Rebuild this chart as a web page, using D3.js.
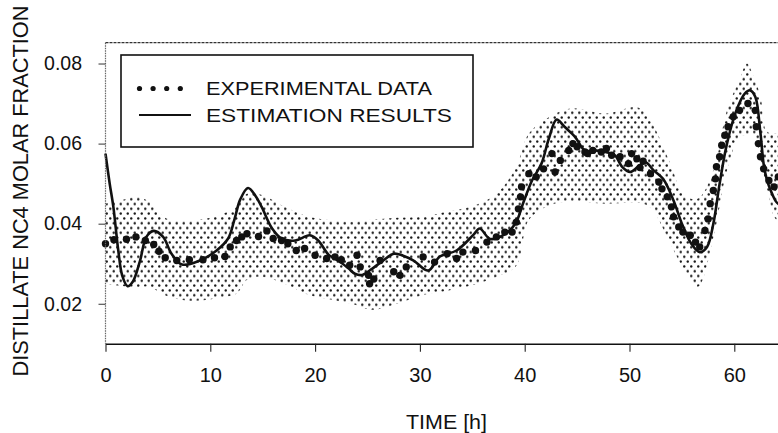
<!DOCTYPE html>
<html>
<head>
<meta charset="utf-8">
<script src="https://cdn.jsdelivr.net/npm/d3@7"></script>
<style>
  html, body { margin: 0; padding: 0; background: #fff; }
  svg { display: block; }
  text { font-family: "Liberation Sans", Arial, sans-serif; fill: #111; }
</style>
</head>
<body>
<div id="chart"></div>
<script>
// experimental data (time h, NC4 molar fraction)
const expTime = [0, 0.8, 2.0, 2.9, 3.8, 4.6, 5.1, 5.7, 6.8, 8.0, 9.3, 10.4, 11.4, 11.9, 12.5, 13.0, 13.5, 14.6, 15.4, 16.0,
  16.8, 17.4, 18.2, 19.0, 20.0, 21.1, 21.9, 22.5, 23.3, 24.0, 24.3, 25.1, 25.2, 25.6, 26.2, 27.5, 28.1, 28.7, 30.3, 31.4,
  32.6, 33.5, 34.1, 35.3, 36.4, 37.3, 38.1, 38.8, 39.2, 39.4, 39.6, 39.7, 40.4, 41.1, 41.8, 42.6, 42.9, 43.4, 44.2, 44.6,
  45.0, 45.75, 46.0, 46.5, 47.3, 47.8, 48.3, 49.1, 49.9, 50.2, 50.7, 51.0, 51.3, 52.0, 52.8, 53.1, 53.6, 54.0, 54.2, 54.7,
  55.1, 55.8, 56.3, 56.7, 57.2, 57.5, 57.7, 58.0, 58.2, 58.3, 58.6, 58.8, 59.1, 59.4, 59.9, 60.5, 61.3, 62.0, 62.1, 62.3,
  62.5, 62.8, 63.3, 63.8, 64.2];
const expValue = [0.035, 0.036, 0.0361, 0.0367, 0.0358, 0.0348, 0.0331, 0.0315, 0.0308, 0.031, 0.031, 0.0315, 0.0318, 0.0342, 0.0358, 0.0367, 0.0375, 0.0368, 0.0382, 0.0363,
  0.0358, 0.035, 0.0333, 0.0338, 0.0321, 0.0313, 0.0317, 0.031, 0.0296, 0.0321, 0.0292, 0.0271, 0.025, 0.0262, 0.0308, 0.028, 0.0271, 0.0292, 0.0317, 0.0304,
  0.0325, 0.0313, 0.0329, 0.0333, 0.0354, 0.0367, 0.0379, 0.0379, 0.0404, 0.0437, 0.0467, 0.0492, 0.0525, 0.0517, 0.0537, 0.0575, 0.0529, 0.0558, 0.0583, 0.06,
  0.0592, 0.0579, 0.0575, 0.0583, 0.0579, 0.0588, 0.0571, 0.0567, 0.055, 0.0575, 0.0562, 0.054, 0.0556, 0.0525, 0.0504, 0.0487, 0.0467, 0.0442, 0.0417, 0.0392,
  0.0379, 0.0371, 0.0354, 0.0342, 0.0383, 0.0412, 0.045, 0.0483, 0.0512, 0.0542, 0.0567, 0.0596, 0.0621, 0.0642, 0.0667, 0.0683, 0.07, 0.0683, 0.0642, 0.06,
  0.0567, 0.0537, 0.0508, 0.0492, 0.0517];

// estimation results
const estTime = [0, 0.4, 0.75, 1.22, 1.6, 2.1, 2.6, 3.3, 3.9, 4.6, 5.5, 6.3, 7.3, 9.0, 10.6, 11.7, 12.3, 12.85, 13.6, 14.3,
  14.9, 15.9, 16.8, 18.1, 19.5, 20.3, 21.3, 22.2, 23.2, 23.8, 24.5, 25.2, 26.5, 27.5, 28.4, 29.4, 30.8, 31.9, 33.5, 35.1,
  35.7, 36.7, 38.0, 39.1, 39.9, 40.7, 41.6, 42.3, 43.05, 43.8, 44.8, 45.75, 46.7, 47.7, 48.6, 49.3, 50.05, 50.8, 51.5, 52.3,
  53.2, 54.2, 55.0, 55.9, 56.7, 57.4, 58.0, 58.6, 59.3, 60.2, 61.0, 61.5, 62.0, 62.5, 62.9, 63.6, 64.2, 65];
const estValue = [0.0575, 0.05, 0.0442, 0.0333, 0.027, 0.0244, 0.0255, 0.0308, 0.0367, 0.0382, 0.0367, 0.0325, 0.0298, 0.0308, 0.0333, 0.0363, 0.041, 0.046, 0.0489, 0.047,
  0.0442, 0.0388, 0.0363, 0.0358, 0.0371, 0.0358, 0.0322, 0.0308, 0.0288, 0.0275, 0.0272, 0.0283, 0.0308, 0.0325, 0.032, 0.0308, 0.0283, 0.0318, 0.0333, 0.0372,
  0.0388, 0.0362, 0.0372, 0.04, 0.0455, 0.0508, 0.055, 0.0612, 0.066, 0.0642, 0.0617, 0.0583, 0.0583, 0.0579, 0.0571, 0.0542, 0.0529, 0.0542, 0.0554, 0.0533,
  0.0512, 0.0458, 0.04, 0.035, 0.0329, 0.0342, 0.04, 0.05, 0.06, 0.0683, 0.0725, 0.0733, 0.0717, 0.0625, 0.0533, 0.0475, 0.045, 0.046];

// stippled band
const bandTime = [0, 1.4, 3, 4.2, 5.8, 7.7, 9.7, 11.2, 12.5, 13.5, 15, 17.1, 19.4, 21.6, 23.5, 25.4, 27.8, 30.3, 32.5, 34.8,
  37.3, 39.2, 40.4, 42.6, 44.5, 47.7, 50.8, 52, 53.9, 55.1, 56.5, 58, 59.3, 60.5, 61.2, 61.8, 62.5, 63.1, 64, 65];
const bandUpper = [0.045, 0.0458, 0.0467, 0.0454, 0.0413, 0.0408, 0.0413, 0.0425, 0.0442, 0.0475, 0.0471, 0.0442, 0.0417, 0.0408, 0.0405, 0.041, 0.0415, 0.0417, 0.043, 0.0442,
  0.0475, 0.0542, 0.0625, 0.067, 0.0688, 0.0675, 0.069, 0.0658, 0.055, 0.0475, 0.0462, 0.0533, 0.0683, 0.076, 0.08, 0.077, 0.0717, 0.063, 0.0625, 0.063];
const bandLower = [0.025, 0.0245, 0.0242, 0.0242, 0.022, 0.0208, 0.021, 0.0217, 0.0225, 0.026, 0.0267, 0.025, 0.0222, 0.021, 0.02, 0.0185, 0.02, 0.0222, 0.0232, 0.0245,
  0.0267, 0.0295, 0.041, 0.0448, 0.0455, 0.045, 0.0452, 0.044, 0.035, 0.029, 0.0242, 0.0365, 0.0533, 0.0617, 0.0622, 0.0625, 0.056, 0.049, 0.041, 0.04];

const xTicks = [0, 10, 20, 30, 40, 50, 60];
const yTicks = [0.02, 0.04, 0.06, 0.08];
const legendLabels = ["EXPERIMENTAL DATA", "ESTIMATION RESULTS"];

(function() {
  const width = 778, height = 433;
  const plotLeft = 105.5, plotTop = 42.7, plotBottom = 343.8;

  const svg = d3.select("#chart").append("svg")
    .attr("width", width)
    .attr("height", height);

  const x = d3.scaleLinear().domain([0, 70]).range([plotLeft, plotLeft + 70 * 10.48]);
  const y = d3.scaleLinear().domain([0.01, 0.0852]).range([plotBottom, plotTop]);

  const defs = svg.append("defs");
  const pat = defs.append("pattern")
    .attr("id", "stipple")
    .attr("patternUnits", "userSpaceOnUse")
    .attr("width", 7)
    .attr("height", 9.6);
  pat.append("circle").attr("cx", 1.75).attr("cy", 2.4).attr("r", 1.2).attr("fill", "#111");
  pat.append("circle").attr("cx", 5.25).attr("cy", 7.2).attr("r", 1.2).attr("fill", "#111");

  defs.append("clipPath").attr("id", "plotclip")
    .append("rect")
    .attr("x", plotLeft).attr("y", plotTop)
    .attr("width", width - plotLeft).attr("height", plotBottom - plotTop);

  // band
  const band = bandTime.map((t, i) => ({ t, hi: bandUpper[i], lo: bandLower[i] }));
  svg.append("path")
    .datum(band)
    .attr("clip-path", "url(#plotclip)")
    .attr("fill", "url(#stipple)")
    .attr("d", d3.area()
      .x(d => x(d.t))
      .y0(d => y(d.lo))
      .y1(d => y(d.hi))
      .curve(d3.curveCatmullRom));

  // estimation line
  const est = estTime.map((t, i) => ({ t, v: estValue[i] }));
  svg.append("path")
    .datum(est)
    .attr("fill", "none")
    .attr("stroke", "#111")
    .attr("stroke-width", 2.6)
    .attr("stroke-linejoin", "round")
    .attr("d", d3.line()
      .x(d => x(d.t))
      .y(d => y(d.v))
      .curve(d3.curveCatmullRom));

  // experimental dots
  svg.append("g")
    .selectAll("circle")
    .data(expTime.map((t, i) => ({ t, v: expValue[i] })))
    .join("circle")
    .attr("cx", d => x(d.t))
    .attr("cy", d => y(d.v))
    .attr("r", 3.7)
    .attr("fill", "#111");

  // frame: dotted left and top borders
  svg.append("line")
    .attr("x1", plotLeft).attr("x2", plotLeft)
    .attr("y1", plotTop).attr("y2", plotBottom)
    .attr("stroke", "#666").attr("stroke-width", 1.2)
    .attr("stroke-dasharray", "1.5,1");
  svg.append("line")
    .attr("x1", plotLeft).attr("x2", width)
    .attr("y1", plotTop).attr("y2", plotTop)
    .attr("stroke", "#333").attr("stroke-width", 1.3)
    .attr("stroke-dasharray", "3,1");

  // axes
  const xAxis = svg.append("g")
    .attr("transform", `translate(0,${plotBottom})`)
    .call(d3.axisBottom(x).tickValues(xTicks).tickSize(8).tickSizeOuter(0).tickPadding(16));
  xAxis.select(".domain").attr("stroke", "#111").attr("stroke-width", 1.6);
  xAxis.selectAll(".tick line").attr("stroke", "#222").attr("stroke-width", 1.1);
  xAxis.selectAll(".tick text")
    .attr("font-size", 20)
    .attr("font-family", "Liberation Sans, Arial, sans-serif")
    .attr("fill", "#111");

  const yAxis = svg.append("g")
    .attr("transform", `translate(${plotLeft},0)`)
    .call(d3.axisLeft(y).tickValues(yTicks).tickFormat(d3.format(".2f")).tickSize(7).tickPadding(16.5));
  yAxis.select(".domain").remove();
  yAxis.selectAll(".tick line").attr("stroke", "#333").attr("stroke-width", 1);
  yAxis.selectAll(".tick text")
    .attr("font-size", 19.5)
    .attr("font-family", "Liberation Sans, Arial, sans-serif")
    .attr("fill", "#111");

  // axis titles
  svg.append("text")
    .attr("x", 446.5)
    .attr("y", 429)
    .attr("text-anchor", "middle")
    .attr("font-size", 19.5)
    .attr("textLength", 81)
    .attr("lengthAdjust", "spacingAndGlyphs")
    .text("TIME [h]");

  svg.append("text")
    .attr("transform", "translate(28,191) rotate(-90)")
    .attr("text-anchor", "middle")
    .attr("font-size", 21.5)
    .attr("textLength", 371)
    .attr("lengthAdjust", "spacingAndGlyphs")
    .text("DISTILLATE NC4 MOLAR FRACTION");

  // legend
  const legendWidths = [226, 246];
  const lg = svg.append("g");
  lg.append("rect")
    .attr("x", 121).attr("y", 55)
    .attr("width", 352).attr("height", 92)
    .attr("fill", "#fff")
    .attr("stroke", "#111").attr("stroke-width", 1.6);
  lg.selectAll(".ldot")
    .data(d3.range(4))
    .join("circle")
    .attr("class", "ldot")
    .attr("cx", i => 139.5 + i * 13.6)
    .attr("cy", 88.5)
    .attr("r", 2.6)
    .attr("fill", "#111");
  lg.append("line")
    .attr("x1", 139).attr("x2", 191)
    .attr("y1", 115).attr("y2", 115)
    .attr("stroke", "#111").attr("stroke-width", 2);
  lg.selectAll(".ltext")
    .data(legendLabels)
    .join("text")
    .attr("class", "ltext")
    .attr("x", 206)
    .attr("y", (d, i) => 95 + i * 26.5)
    .attr("font-size", 18.8)
    .attr("textLength", (d, i) => legendWidths[i])
    .attr("lengthAdjust", "spacingAndGlyphs")
    .text(d => d);
})();
</script>
</body>
</html>
